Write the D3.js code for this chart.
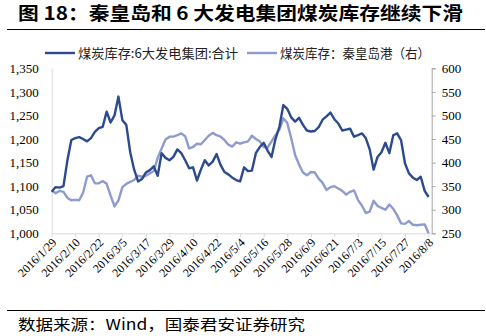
<!DOCTYPE html>
<html>
<head>
<meta charset="utf-8">
<script src="https://cdn.jsdelivr.net/npm/d3@7/dist/d3.min.js"></script>
<style>
  body { margin: 0; background: #fff; }
  svg { display: block; }
  .tick text { font-family: "Liberation Serif", "DejaVu Serif", serif; font-size: 13px; fill: #000; }
</style>
</head>
<body>
<svg id="chart"></svg>
<script>
var startDate = new Date(2016, 0, 29);
var stepDays = 2;

// 煤炭库存:6大发电集团:合计 (left axis, 万吨)
var groupStock = [1088, 1098, 1097, 1100, 1155, 1198, 1202, 1204, 1200, 1195,
  1202, 1215, 1223, 1226, 1258, 1235, 1250, 1290, 1240, 1230,
  1172, 1135, 1110, 1115, 1129, 1134, 1142, 1122, 1170, 1160,
  1155, 1162, 1178, 1170, 1155, 1138, 1140, 1112, 1135, 1155,
  1144, 1152, 1168, 1145, 1130, 1125, 1118, 1113, 1110, 1140,
  1132, 1133, 1170, 1183, 1192, 1175, 1162, 1200, 1226, 1272,
  1264, 1246, 1237, 1245, 1230, 1218, 1216, 1217, 1225, 1241,
  1248, 1256, 1242, 1233, 1218, 1220, 1222, 1205, 1208, 1212,
  1202, 1178, 1135, 1162, 1172, 1192, 1170, 1208, 1212, 1197,
  1148, 1127, 1118, 1113, 1120, 1090, 1077];

// 煤炭库存：秦皇岛港（右）
var portStock = [341, 335, 340, 338, 325, 320, 321, 320, 336, 370,
  373, 356, 356, 361, 355, 330, 307, 320, 348, 355,
  359, 363, 372, 370, 372, 377, 382, 410, 430, 449,
  455, 455, 458, 462, 456, 430, 433, 440, 439, 448,
  457, 463, 458, 455, 448, 438, 434, 443, 440, 443,
  445, 457, 450, 445, 433, 432, 445, 458, 470, 494,
  484, 452, 416, 396, 379, 373, 380, 379, 366, 357,
  342, 348, 350, 345, 340, 332, 338, 341, 321, 309,
  293, 296, 319, 308, 304, 300, 311, 302, 288, 271,
  270, 276, 268, 267, 268, 269, 250];

var leftTicks = [1000, 1050, 1100, 1150, 1200, 1250, 1300, 1350];
var rightTicks = [250, 300, 350, 400, 450, 500, 550, 600];
var xTickLabels = ["2016/1/29", "2016/2/10", "2016/2/22", "2016/3/5", "2016/3/17",
  "2016/3/29", "2016/4/10", "2016/4/22", "2016/5/4", "2016/5/16", "2016/5/28",
  "2016/6/9", "2016/6/21", "2016/7/3", "2016/7/15", "2016/7/27", "2016/8/8"];

var titleText = "图 18：秦皇岛和 6 大发电集团煤炭库存继续下滑";
var sourceText = "数据来源：Wind，国泰君安证券研究";
var legendNames = ["煤炭库存:6大发电集团:合计", "煤炭库存：秦皇岛港（右）"];

var darkColor = "#2d4a8f";
var lightColor = "#8d9bcf";

// ---- layout ----
var W = 486, H = 336;
var plot = {left: 51.7, right: 431.7, top: 68.3, bottom: 233.3};

var svg = d3.select("#chart").attr("width", W).attr("height", H);

var dates = groupStock.map(function(d, i) { return d3.timeDay.offset(startDate, i * stepDays); });
var tickDates = xTickLabels.map(function(s) {
  var p = s.split("/");
  return new Date(+p[0], +p[1] - 1, +p[2]);
});

var x = d3.scaleTime()
  .domain([startDate, d3.timeHour.offset(startDate, Math.round(193.6 * 24))])
  .range([plot.left, plot.right]);
var yL = d3.scaleLinear().domain([1000, 1350]).range([plot.bottom, plot.top]);
var yR = d3.scaleLinear().domain([250, 600]).range([plot.bottom, plot.top]);

// title
svg.append("text")
  .attr("x", 18).attr("y", 20)
  .attr("textLength", 445).attr("lengthAdjust", "spacingAndGlyphs")
  .style("font-family", "'Noto Sans CJK SC', sans-serif")
  .style("font-weight", "bold").style("font-size", "18px")
  .text(titleText);
svg.append("line").attr("x1", 7).attr("x2", 485).attr("y1", 29.5).attr("y2", 29.5)
  .attr("stroke", "#000").attr("stroke-width", 1.2);

// footer
svg.append("line").attr("x1", 7).attr("x2", 485).attr("y1", 310.5).attr("y2", 310.5)
  .attr("stroke", "#000").attr("stroke-width", 1);
svg.append("text")
  .attr("x", 18).attr("y", 330)
  .attr("textLength", 287).attr("lengthAdjust", "spacingAndGlyphs")
  .style("font-family", "'Noto Sans CJK SC', sans-serif")
  .style("font-size", "15px")
  .text(sourceText);

// axes
var gL = svg.append("g").attr("transform", "translate(" + plot.left + ",0)")
  .call(d3.axisLeft(yL).tickValues(leftTicks).tickSize(0).tickPadding(13)
    .tickFormat(d3.format(",")));
gL.select(".domain").attr("stroke", "#d9d9d9");

var gR = svg.append("g").attr("transform", "translate(" + plot.right + ",0)")
  .call(d3.axisRight(yR).tickValues(rightTicks).tickSize(4).tickPadding(6));
gR.select(".domain").attr("stroke", "#a6a6a6");
gR.selectAll(".tick line").attr("stroke", "#a6a6a6");

var gX = svg.append("g").attr("transform", "translate(0," + plot.bottom + ")")
  .call(d3.axisBottom(x).tickValues(tickDates).tickSize(4).tickSizeOuter(0)
    .tickFormat(function(d, i) { return xTickLabels[i]; }));
gX.select(".domain").attr("stroke", "#d9d9d9");
gX.selectAll(".tick line").attr("stroke", "#d9d9d9");
gX.selectAll(".tick text")
  .style("font-size", "12px")
  .attr("text-anchor", "end")
  .attr("dy", null)
  .attr("transform", "translate(5,10) rotate(-45)")
  .attr("x", 0).attr("y", 0);

// lines
var lineL = d3.line().x(function(d, i) { return x(dates[i]); }).y(function(d) { return yL(d); });
var lineR = d3.line().x(function(d, i) { return x(dates[i]); }).y(function(d) { return yR(d); });

svg.append("path").datum(portStock)
  .attr("d", lineR).attr("fill", "none")
  .attr("stroke", lightColor).attr("stroke-width", 2.4).attr("stroke-linejoin", "round");
svg.append("path").datum(groupStock)
  .attr("d", lineL).attr("fill", "none")
  .attr("stroke", darkColor).attr("stroke-width", 2.4).attr("stroke-linejoin", "round");

// legend
var legend = svg.append("g");
var legendItems = [
  {name: legendNames[0], color: darkColor, x: 45, len: 160},
  {name: legendNames[1], color: lightColor, x: 247, len: 150}
];
legendItems.forEach(function(it) {
  legend.append("line").attr("x1", it.x).attr("x2", it.x + 30)
    .attr("y1", 53).attr("y2", 53)
    .attr("stroke", it.color).attr("stroke-width", 2.4);
  legend.append("text").attr("x", it.x + 33).attr("y", 58)
    .attr("textLength", it.len).attr("lengthAdjust", "spacingAndGlyphs")
    .style("font-family", "'Noto Sans CJK SC', sans-serif")
    .style("font-size", "13px").style("fill", "#222")
    .text(it.name);
});
</script>
</body>
</html>
